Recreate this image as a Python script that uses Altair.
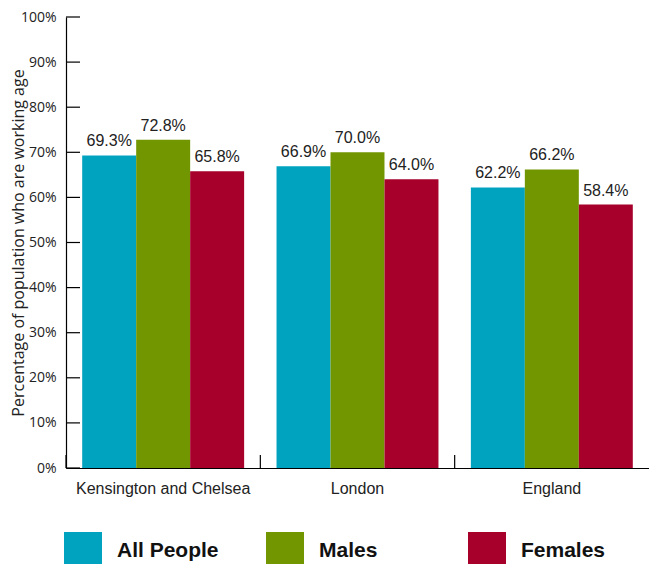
import altair as alt
import pandas as pd

regions = ["Kensington and Chelsea", "London", "England"]
groups = ["All People", "Males", "Females"]
all_people = [69.3, 66.9, 62.2]
males = [72.8, 70.0, 66.2]
females = [65.8, 64.0, 58.4]
colors = ["#00A3BF", "#729600", "#A6002B"]
y_ticks = [0, 10, 20, 30, 40, 50, 60, 70, 80, 90, 100]

rows = []
for i, r in enumerate(regions):
    for g, vals in zip(groups, [all_people, males, females]):
        rows.append({"region": r, "group": g, "value": vals[i],
                     "label": f"{vals[i]:.1f}%"})
df = pd.DataFrame(rows)
tick_df = pd.DataFrame({"value": y_ticks})
region_df = pd.DataFrame({"region": regions})

W = 583
H = 451

x_enc = alt.X("region:N", sort=regions,
              scale=alt.Scale(paddingInner=0, paddingOuter=0),
              axis=alt.Axis(title=None, labelAngle=0, tickSize=0,
                            domainColor="black", domainWidth=1.2,
                            labelFont="Liberation Sans", labelFontSize=16,
                            labelColor="#222", labelPadding=12))
y_enc = alt.Y("value:Q", scale=alt.Scale(domain=[0, 100]),
              axis=alt.Axis(values=y_ticks, labelExpr="datum.value + '%'",
                            tickSize=0, labelPadding=10, grid=False,
                            domainColor="black", domainWidth=1.2,
                            labelFont="Open Sans", labelFontSize=14,
                            labelColor="#222",
                            title="Percentage of population who are working age",
                            titleFont="Open Sans", titleFontSize=16,
                            titleFontWeight="normal", titleColor="#222",
                            titleX=-40))
xoff = alt.XOffset("group:N", sort=groups,
                   scale=alt.Scale(paddingOuter=0.3, paddingInner=0))

bars = alt.Chart(df).mark_bar().encode(
    x=x_enc,
    y=y_enc,
    xOffset=xoff,
    color=alt.Color("group:N", sort=groups,
                    scale=alt.Scale(domain=groups, range=colors),
                    legend=alt.Legend(title=None, orient="none",
                                      legendX=-2, legendY=515,
                                      direction="horizontal",
                                      symbolType="square", symbolSize=1444,
                                      symbolStrokeWidth=0,
                                      labelFont="Liberation Sans",
                                      labelFontSize=21, labelFontWeight="bold",
                                      labelColor="#111", labelOffset=15,
                                      columnPadding=47, gridAlign="all",
                                      padding=0)),
)

texts = alt.Chart(df).mark_text(fontSize=16, font="Liberation Sans",
                                dy=-9, baseline="alphabetic",
                                color="#222").encode(
    x=alt.X("region:N", sort=regions),
    y=alt.Y("value:Q"),
    xOffset=xoff,
    text="label:N",
)

yticks = alt.Chart(tick_df).mark_rule(color="black", strokeWidth=1.2).encode(
    y=alt.Y("value:Q"),
    x=alt.value(0),
    x2=alt.value(14),
)

xticks = alt.Chart(region_df).mark_rule(color="black", strokeWidth=1.2).encode(
    x=alt.X("region:N", sort=regions, bandPosition=0),
    y=alt.value(H - 13),
    y2=alt.value(H),
)

chart = alt.layer(bars, texts, yticks, xticks).properties(
    width=W, height=H,
    padding={"left": 58, "top": 9, "right": 0, "bottom": 96},
    autosize=alt.AutoSizeParams(type="none"),
).configure_view(stroke=None)

chart.save("out.html", embed_options={"renderer": "svg", "actions": False})
